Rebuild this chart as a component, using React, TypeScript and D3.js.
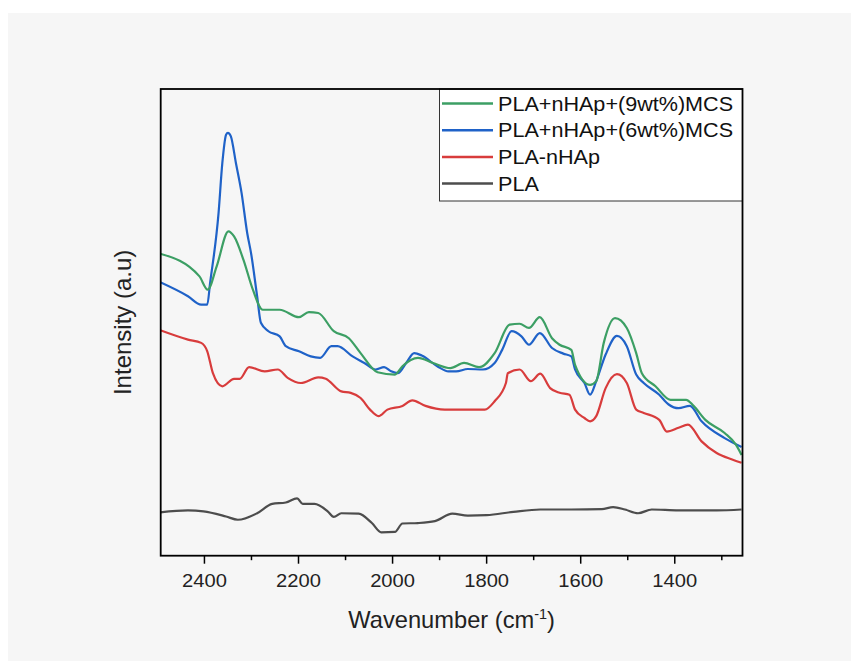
import React from "react";
import * as d3 from "d3";

const xTicksMajor = [2400, 2200, 2000, 1800, 1600, 1400];
const xTicksMinor = [2300, 2100, 1900, 1700, 1500, 1300];
const xDomain: [number, number] = [2493, 1256];
const yDomain: [number, number] = [0, 100];

const seriesNames = [
  "PLA+nHAp+(9wt%)MCS",
  "PLA+nHAp+(6wt%)MCS",
  "PLA-nHAp",
  "PLA",
];
const seriesColors = ["#3c9f64", "#1f62c8", "#d83c3c", "#4d4d4d"];

// [wavenumber, intensity]
const mcs9: [number, number][] = [
  [2494, 64.7], [2411, 59.9], [2393, 57.0], [2374, 62.0], [2349, 69.5], [2337, 68.4],
  [2317, 63.4], [2297, 57.0], [2276, 52.7], [2240, 52.7], [2199, 51.1], [2178, 52.2],
  [2158, 52.0], [2125, 48.1], [2093, 46.6], [2068, 43.4], [2032, 39.3], [1995, 38.8],
  [1979, 40.6], [1946, 42.4], [1914, 41.3], [1877, 40.2], [1848, 41.3], [1816, 40.4],
  [1783, 43.4], [1751, 49.5], [1730, 49.7], [1710, 48.8], [1687, 51.1], [1661, 46.6],
  [1645, 45.2], [1620, 44.1], [1612, 40.9], [1580, 36.6], [1567, 37.4], [1551, 45.6],
  [1527, 50.9], [1502, 48.8], [1482, 43.4], [1470, 39.1], [1441, 36.3], [1409, 33.4],
  [1376, 33.4], [1360, 32.1], [1335, 29.1], [1294, 26.3], [1270, 23.8], [1258, 21.6],
];

const mcs6: [number, number][] = [
  [2494, 58.6], [2435, 55.6], [2407, 53.8], [2394, 53.8], [2388, 58.4], [2370, 73.4],
  [2362, 84.1], [2354, 90.2], [2350, 90.6], [2344, 89.9], [2333, 84.1], [2321, 77.7],
  [2309, 69.1], [2301, 64.9], [2288, 55.6], [2280, 49.9], [2264, 48.1], [2240, 47.0],
  [2227, 44.9], [2199, 43.8], [2174, 42.7], [2154, 42.4], [2130, 44.9], [2117, 44.9],
  [2085, 42.7], [2060, 41.3], [2036, 39.9], [2018, 40.4], [2003, 39.5], [1989, 39.1],
  [1971, 41.3], [1954, 43.4], [1938, 42.9], [1905, 40.6], [1881, 39.5], [1865, 39.5],
  [1840, 40.0], [1808, 39.9], [1783, 41.3], [1767, 44.1], [1747, 48.1], [1726, 47.0],
  [1710, 45.2], [1687, 47.7], [1661, 44.5], [1637, 43.3], [1620, 42.7], [1612, 39.9],
  [1592, 37.0], [1580, 34.5], [1567, 37.4], [1547, 43.1], [1523, 47.1], [1502, 44.9],
  [1482, 38.8], [1466, 37.0], [1433, 34.5], [1413, 32.4], [1392, 31.6], [1368, 32.1],
  [1343, 28.8], [1294, 25.2], [1258, 23.3],
];

const plaNhap: [number, number][] = [
  [2494, 48.3], [2435, 46.3], [2407, 45.6], [2394, 43.8], [2382, 39.1], [2362, 36.3],
  [2337, 37.9], [2325, 37.9], [2305, 40.4], [2272, 39.5], [2244, 39.9], [2223, 38.1],
  [2195, 37.0], [2158, 38.2], [2142, 37.9], [2109, 35.2], [2089, 34.9], [2068, 33.8],
  [2048, 31.3], [2030, 29.9], [2011, 31.3], [1979, 32.1], [1958, 33.3], [1930, 32.1],
  [1889, 31.3], [1804, 31.3], [1783, 33.1], [1759, 37.0], [1755, 39.1], [1730, 39.9],
  [1706, 37.4], [1686, 39.0], [1665, 35.9], [1645, 34.9], [1624, 34.5], [1612, 31.3],
  [1592, 29.5], [1580, 28.8], [1567, 29.9], [1547, 35.9], [1523, 38.9], [1502, 37.0],
  [1482, 31.3], [1466, 30.6], [1433, 29.1], [1417, 26.6], [1392, 27.4], [1372, 28.1],
  [1343, 24.5], [1311, 22.0], [1278, 20.6], [1258, 19.9],
];

const pla: [number, number][] = [
  [2494, 9.3], [2435, 9.7], [2402, 9.5], [2354, 8.4], [2329, 7.7], [2288, 9.1],
  [2256, 11.1], [2227, 11.4], [2203, 12.3], [2191, 11.1], [2166, 11.1], [2138, 9.5],
  [2125, 8.3], [2109, 9.1], [2072, 9.0], [2044, 7.0], [2024, 5.0], [1995, 5.1],
  [1979, 6.9], [1946, 7.0], [1910, 7.4], [1873, 9.0], [1840, 8.6], [1800, 8.7],
  [1743, 9.4], [1686, 9.9], [1620, 9.9], [1555, 10.0], [1531, 10.4], [1506, 9.9],
  [1478, 9.1], [1449, 9.9], [1392, 9.7], [1311, 9.7], [1258, 9.9],
];

const seriesData = [mcs9, mcs6, plaNhap, pla];

const W = 851;
const H = 661;
const M = { left: 160.7, right: 742.5, top: 89, bottom: 555.7 };
const FONT = "'Liberation Sans', Arial, sans-serif";

export default function App() {
  const x = d3.scaleLinear().domain(xDomain).range([M.left, M.right]);
  const y = d3.scaleLinear().domain(yDomain).range([M.bottom, M.top]);
  const line = d3
    .line<[number, number]>()
    .x((d) => x(d[0]))
    .y((d) => y(d[1]))
    .curve(d3.curveMonotoneX);

  const drawOrder = [3, 2, 1, 0];

  const legX = 439.5;
  const legY = 89;
  const legW = M.right - legX;
  const legH = 112;
  const rowY = [103.5, 130.3, 157, 183.5];

  return (
    <div style={{ position: "absolute", left: 0, top: 0 }}>
      <svg width={W} height={H} style={{ display: "block" }}>
        <rect x={0} y={0} width={W} height={H} fill="#ffffff" />
        <rect x={8} y={13} width={W - 8} height={H - 13} fill="#f6f6f6" />
        <defs>
          <clipPath id="plotclip">
            <rect x={M.left} y={M.top} width={M.right - M.left} height={M.bottom - M.top} />
          </clipPath>
        </defs>
        <g clipPath="url(#plotclip)">
          {drawOrder.map((i) => (
            <path
              key={i}
              d={line(seriesData[i]) || ""}
              fill="none"
              stroke={seriesColors[i]}
              strokeWidth={2.2}
              strokeLinejoin="round"
            />
          ))}
        </g>
        {/* legend */}
        <rect x={legX} y={legY} width={legW} height={legH} fill="#ffffff" stroke="#333" strokeWidth={1} />
        {seriesNames.map((n, i) => (
          <g key={n}>
            <line x1={442} x2={493} y1={rowY[i]} y2={rowY[i]} stroke={seriesColors[i]} strokeWidth={2.5} />
            <text
              transform={`translate(498,${rowY[i] + 7}) scale(1.08,1)`}
              fontFamily={FONT}
              fontSize={20}
              fill="#111"
            >
              {n}
            </text>
          </g>
        ))}
        {/* frame */}
        <rect
          x={M.left}
          y={M.top}
          width={M.right - M.left}
          height={M.bottom - M.top}
          fill="none"
          stroke="#000"
          strokeWidth={1.8}
        />
        {/* x ticks */}
        {xTicksMajor.map((t) => (
          <g key={t}>
            <line x1={x(t)} x2={x(t)} y1={M.bottom} y2={M.bottom + 8} stroke="#000" strokeWidth={1.5} />
            <text
              transform={`translate(${x(t)},587) scale(1.12,1)`}
              textAnchor="middle"
              fontFamily={FONT}
              fontSize={18}
              fill="#222"
            >
              {t}
            </text>
          </g>
        ))}
        {xTicksMinor.map((t) => (
          <line key={t} x1={x(t)} x2={x(t)} y1={M.bottom} y2={M.bottom + 4.5} stroke="#000" strokeWidth={1.5} />
        ))}
        {/* x title */}
        <text
          transform={`translate(${(M.left + M.right) / 2},628) scale(1.03,1)`}
          textAnchor="middle"
          fontFamily={FONT}
          fontSize={23}
          fill="#222"
        >
          Wavenumber (cm
          <tspan dy={-9} fontSize={14}>-1</tspan>
          <tspan dy={9}>)</tspan>
        </text>
        {/* y title */}
        <text
          transform={`translate(131,${(M.top + M.bottom) / 2}) rotate(-90)`}
          textAnchor="middle"
          fontFamily={FONT}
          fontSize={24}
          fill="#222"
        >
          Intensity (a.u)
        </text>
      </svg>
    </div>
  );
}
